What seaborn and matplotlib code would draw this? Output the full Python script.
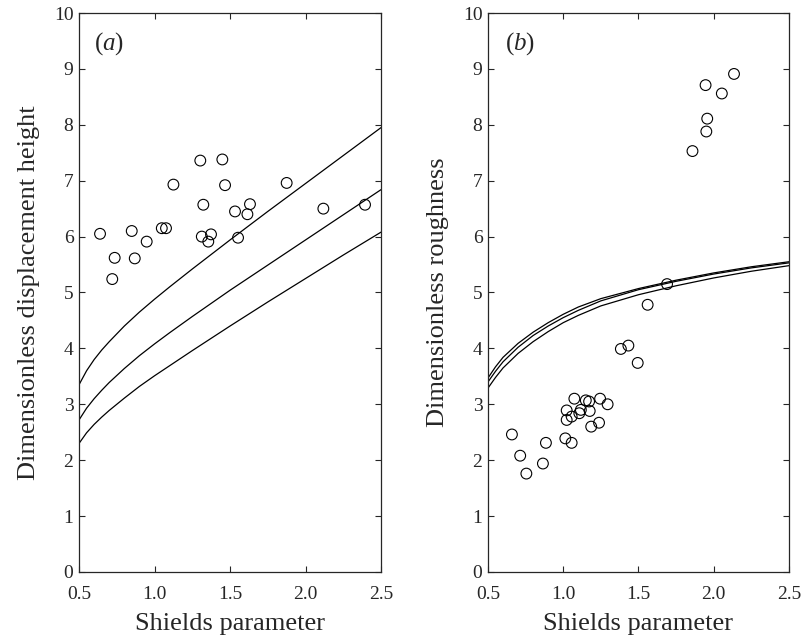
import matplotlib
matplotlib.use('Agg')
import matplotlib.pyplot as plt
import seaborn as sns
import pandas as pd

# panel (a): displacement height
shields_a = [0.639, 0.720, 0.736, 0.849, 0.869, 0.948, 1.048, 1.076, 1.125, 1.303, 1.323, 1.313,
             1.356, 1.374, 1.449, 1.467, 1.533, 1.553, 1.615, 1.632, 1.875, 2.118, 2.394]
height_a = [6.05, 5.24, 5.62, 6.10, 5.61, 5.91, 6.15, 6.15, 6.93, 7.36, 6.57, 6.00,
            5.91, 6.04, 7.38, 6.92, 6.45, 5.98, 6.40, 6.58, 6.96, 6.50, 6.57]

curve_x_a = [0.5, 0.55, 0.6, 0.65, 0.7, 0.8, 0.9, 1.0, 1.1, 1.25, 1.5, 1.75, 2.0, 2.25, 2.5]
upper_a = [3.35, 3.60, 3.80, 3.97, 4.12, 4.40, 4.65, 4.88, 5.10, 5.42, 5.94, 6.45, 6.95, 7.45, 7.95]
middle_a = [2.72, 2.93, 3.10, 3.25, 3.39, 3.64, 3.87, 4.08, 4.28, 4.57, 5.04, 5.49, 5.94, 6.39, 6.84]
lower_a = [2.30, 2.49, 2.64, 2.77, 2.89, 3.11, 3.32, 3.51, 3.69, 3.96, 4.40, 4.83, 5.25, 5.67, 6.08]

# panel (b): roughness
shields_b = [0.659, 0.714, 0.755, 0.865, 0.885, 1.014, 1.056, 1.023, 1.023, 1.056, 1.074, 1.107,
             1.117, 1.150, 1.172, 1.176, 1.186, 1.238, 1.245, 1.295, 1.383, 1.433, 1.495,
             1.561, 1.690, 1.859, 1.951, 1.957, 1.946, 2.054, 2.135]
rough_b = [2.46, 2.08, 1.76, 1.94, 2.31, 2.39, 2.31, 2.89, 2.72, 2.78, 3.10, 2.84,
           2.90, 3.07, 3.05, 2.88, 2.60, 2.67, 3.10, 3.00, 3.99, 4.05, 3.74,
           4.78, 5.15, 7.53, 7.88, 8.11, 8.71, 8.56, 8.91]

curve_x_b = [0.5, 0.55, 0.6, 0.7, 0.8, 0.9, 1.0, 1.1, 1.25, 1.5, 1.75, 2.0, 2.25, 2.5]
upper_b = [3.47, 3.67, 3.84, 4.09, 4.29, 4.46, 4.61, 4.74, 4.89, 5.07, 5.22, 5.35, 5.46, 5.55]
middle_b = [3.40, 3.59, 3.76, 4.02, 4.23, 4.40, 4.55, 4.68, 4.85, 5.05, 5.20, 5.33, 5.44, 5.53]
lower_b = [3.29, 3.48, 3.65, 3.91, 4.12, 4.30, 4.46, 4.59, 4.76, 4.96, 5.12, 5.26, 5.38, 5.48]

x_ticks = [0.5, 1.0, 1.5, 2.0, 2.5]
x_ticklabels = ['0.5', '1.0', '1.5', '2.0', '2.5']
y_ticks = list(range(0, 11))

sns.set_style('ticks')
plt.rcParams['font.family'] = ['Liberation Serif', 'DejaVu Serif']
plt.rcParams['mathtext.fontset'] = 'custom'
plt.rcParams['mathtext.rm'] = 'Liberation Serif'
plt.rcParams['mathtext.it'] = 'Liberation Serif:italic'

fig = plt.figure(figsize=(8.09, 6.41), dpi=100)
ax_a = fig.add_axes([0.0977, 0.1077, 0.3733, 0.8720])
ax_b = fig.add_axes([0.6032, 0.1077, 0.3720, 0.8720])

panels = [
    (ax_a, shields_a, height_a, curve_x_a, [upper_a, middle_a, lower_a],
     'Dimensionless displacement height', r'($\it{a}$)', 0.050),
    (ax_b, shields_b, rough_b, curve_x_b, [upper_b, middle_b, lower_b],
     'Dimensionless roughness', r'($\it{b}$)', 0.058),
]

for ax, xs, ys, cx, curves, ylab, tag, tag_x in panels:
    for c in curves:
        df = pd.DataFrame({'x': cx, 'y': c})
        sns.lineplot(data=df, x='x', y='y', ax=ax, color='black', lw=0.9,
                     estimator=None, sort=False)
    pts = pd.DataFrame({'x': xs, 'y': ys})
    sns.scatterplot(data=pts, x='x', y='y', ax=ax, s=60, facecolor='none',
                    edgecolor='black', linewidth=0.8, marker='o')
    ax.set_xlim(0.5, 2.5)
    ax.set_ylim(0, 10)
    ax.set_xticks(x_ticks)
    ax.set_xticklabels(x_ticklabels)
    ax.set_yticks(y_ticks)
    ax.tick_params(direction='in', top=True, right=True, length=4.5, width=0.8,
                   labelsize=14, pad=4)
    ax.tick_params(axis='x', pad=10)
    for sp in ax.spines.values():
        sp.set_linewidth(0.9)
        sp.set_visible(True)
    ax.set_xlabel('Shields parameter', fontsize=19, labelpad=7)
    ax.set_ylabel(ylab, fontsize=19, labelpad=10)
    ax.text(tag_x, 0.946, tag, transform=ax.transAxes, fontsize=18,
            ha='left', va='center')

fig.savefig('out.png', dpi=100)
